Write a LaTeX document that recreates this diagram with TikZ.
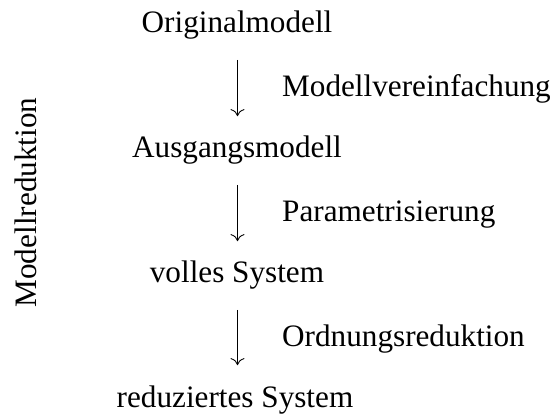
\documentclass[tikz,border=0pt]{standalone}
\usepackage{fontspec}
\setmainfont{Liberation Serif}
\usetikzlibrary{arrows.meta}
\begin{document}
\begin{tikzpicture}[x=1pt,y=-1pt,
  txt/.style={font=\fontsize{31.2pt}{37pt}\selectfont, inner sep=0pt},
  stage/.style={txt, anchor=base},
  lbl/.style={txt, anchor=base west},
  arr/.style={line width=0.9pt, -{To[length=7pt,width=14pt]}, shorten <=20pt, shorten >=20pt}]
\useasboundingbox (0,0) rectangle (555,414);
\node[stage] (o) at (237,33) {Originalmodell};
\node[stage] (a) at (237,158) {Ausgangsmodell};
\node[stage] (v) at (237,283) {volles System};
\node[stage] (r) at (235,407) {reduziertes System};
\draw[arr] (o.south -| 237.5,0) -- (a.north -| 237.5,0);
\draw[arr] (a.south -| 237.5,0) -- (v.north -| 237.5,0);
\draw[arr] (v.south -| 237.5,0) -- (r.north -| 237.5,0);
\node[lbl] (l1) at (282,96.7) {Modellvereinfachung};
\node[lbl] (l2) at (282,222) {Parametrisierung};
\node[lbl] (l3) at (282,347) {Ordnungsreduktion};
\node[txt, rotate=90, anchor=base] (m) at (36,202.5) {Modellreduktion};
\end{tikzpicture}
\end{document}
